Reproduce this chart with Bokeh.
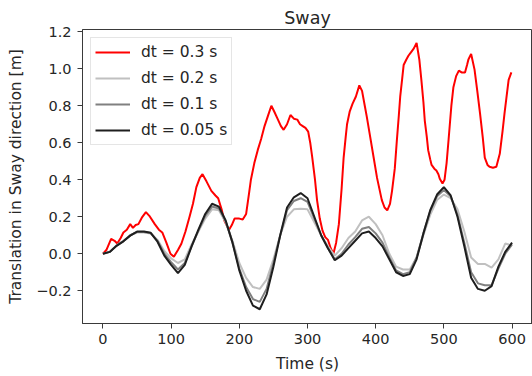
from bokeh.plotting import figure
from bokeh.models import Range1d, FixedTicker, CustomJSTickFormatter, Legend, LegendItem
from bokeh.embed import file_html
from bokeh.resources import INLINE

# ---------------- data ----------------
t_03 = [0, 5, 12, 17, 21, 26, 30, 35, 40, 44, 48, 52, 57, 63, 68, 76, 82, 87, 93, 99,
        104, 110, 115, 121, 127, 132, 137, 142, 146, 152, 159, 165, 169, 174, 178, 182,
        185, 189, 193, 200, 205, 210, 214, 217, 222, 227, 232, 237, 242, 247, 251, 256,
        261, 265, 270, 275, 280, 285, 289, 293, 297, 301, 304, 307, 311, 314, 318, 322,
        326, 330, 334, 338, 342, 346, 350, 353, 356, 358, 362, 366, 371, 376, 380, 384,
        387, 392, 397, 402, 409, 413, 417, 421, 424, 428, 431, 434, 436, 439, 441, 445,
        448, 452, 456, 460, 464, 467, 470, 472, 475, 477, 480, 482, 486, 489, 492, 494,
        498, 501, 504, 507, 511, 514, 518, 522, 526, 531, 534, 536, 540, 545, 549, 553,
        557, 560, 564, 567, 572, 577, 582, 586, 589, 592, 595, 599]
y_03 = [0.0, 0.02, 0.08, 0.07, 0.055, 0.085, 0.115, 0.13, 0.16, 0.14, 0.155, 0.16, 0.195,
        0.225, 0.205, 0.16, 0.13, 0.115, 0.06, 0.0, -0.016, 0.02, 0.054, 0.12, 0.2, 0.27,
        0.36, 0.41, 0.43, 0.39, 0.34, 0.315, 0.30, 0.24, 0.18, 0.15, 0.13, 0.155, 0.19,
        0.19, 0.185, 0.215, 0.32, 0.40, 0.49, 0.56, 0.62, 0.69, 0.745, 0.80, 0.77, 0.73,
        0.69, 0.67, 0.70, 0.75, 0.73, 0.725, 0.70, 0.69, 0.68, 0.66, 0.60, 0.52, 0.40,
        0.29, 0.19, 0.125, 0.09, 0.075, 0.03, 0.0, 0.06, 0.16, 0.35, 0.52, 0.63, 0.70,
        0.77, 0.81, 0.85, 0.91, 0.88, 0.80, 0.74, 0.63, 0.52, 0.41, 0.29, 0.25, 0.235,
        0.27, 0.34, 0.46, 0.61, 0.75, 0.85, 0.95, 1.02, 1.05, 1.07, 1.09, 1.11, 1.14,
        1.05, 0.94, 0.82, 0.72, 0.63, 0.56, 0.51, 0.48, 0.46, 0.45, 0.43, 0.405, 0.38,
        0.40, 0.49, 0.62, 0.80, 0.90, 0.96, 0.99, 0.98, 0.98, 1.02, 1.05, 1.08, 0.995,
        0.88, 0.76, 0.63, 0.52, 0.48, 0.47, 0.465, 0.47, 0.54, 0.66, 0.76, 0.85, 0.94, 0.98]

t_grid = [0, 10, 20, 30, 40, 50, 60, 70, 80, 90, 100, 110, 120, 130, 140, 150, 160, 170,
          180, 190, 200, 210, 220, 230, 240, 250, 260, 270, 280, 290, 300, 310, 320, 330,
          340, 350, 360, 370, 380, 390, 400, 410, 420, 430, 440, 450, 460, 470, 480, 490,
          500, 510, 520, 530, 540, 550, 560, 570, 580, 590, 600]
y_02 = [0.0, 0.01, 0.045, 0.07, 0.1, 0.115, 0.115, 0.11, 0.075, 0.015, -0.025, -0.05, -0.03,
        0.05, 0.12, 0.19, 0.24, 0.235, 0.17, 0.07, -0.05, -0.13, -0.18, -0.19, -0.14, -0.03,
        0.1, 0.2, 0.24, 0.243, 0.24, 0.17, 0.1, 0.04, -0.01, 0.03, 0.085, 0.12, 0.18, 0.2,
        0.16, 0.1, 0.0, -0.07, -0.085, -0.085, -0.02, 0.1, 0.21, 0.29, 0.32, 0.3, 0.24,
        0.12, -0.02, -0.055, -0.055, -0.075, -0.03, 0.055, 0.045]
y_01 = [0.0, 0.01, 0.045, 0.068, 0.1, 0.118, 0.118, 0.112, 0.07, 0.0, -0.045, -0.085, -0.05,
        0.04, 0.125, 0.205, 0.255, 0.245, 0.175, 0.06, -0.08, -0.18, -0.245, -0.26, -0.19,
        -0.05, 0.1, 0.235, 0.285, 0.3, 0.28, 0.19, 0.1, 0.03, -0.03, 0.0, 0.05, 0.09, 0.135,
        0.145, 0.11, 0.06, -0.02, -0.09, -0.11, -0.1, -0.02, 0.11, 0.23, 0.31, 0.345, 0.31,
        0.21, 0.06, -0.1, -0.16, -0.17, -0.17, -0.08, 0.0, 0.05]
y_005 = [0.0, 0.01, 0.043, 0.067, 0.098, 0.12, 0.12, 0.113, 0.065, -0.01, -0.06, -0.105,
         -0.06, 0.04, 0.13, 0.215, 0.27, 0.255, 0.18, 0.06, -0.09, -0.2, -0.28, -0.3, -0.22,
         -0.07, 0.1, 0.25, 0.305, 0.328, 0.3, 0.2, 0.1, 0.03, -0.035, -0.01, 0.03, 0.07,
         0.11, 0.12, 0.085, 0.04, -0.03, -0.1, -0.12, -0.11, -0.03, 0.11, 0.235, 0.32, 0.36,
         0.315, 0.2, 0.04, -0.13, -0.19, -0.2, -0.175, -0.07, 0.01, 0.06]

labels = ["dt = 0.3 s", "dt = 0.2 s", "dt = 0.1 s", "dt = 0.05 s"]
x_ticks = [0, 100, 200, 300, 400, 500, 600]
y_ticks = [-0.2, 0.0, 0.2, 0.4, 0.6, 0.8, 1.0, 1.2]

# ---------------- figure ----------------
FONT = "DejaVu Sans"
TXT = "#262626"

p = figure(width=532, height=376, output_backend="svg", toolbar_location=None,
           x_range=Range1d(-30, 630), y_range=Range1d(-0.377, 1.212),
           min_border_left=82, min_border_right=0, min_border_top=29, min_border_bottom=53,
           title="Sway")
p.background_fill_color = "white"
p.border_fill_color = "white"
p.outline_line_color = "#3a3a3a"
p.outline_line_width = 1
p.xgrid.visible = False
p.ygrid.visible = False

p.title.align = "center"
p.title.text_font = FONT
p.title.text_font_size = "17.5px"
p.title.text_font_style = "normal"
p.title.text_color = TXT
p.title.standoff = 3

for ax in (p.xaxis[0], p.yaxis[0]):
    ax.axis_line_color = "#3a3a3a"
    ax.major_tick_line_color = "#3a3a3a"
    ax.major_tick_out = 5
    ax.major_tick_in = 0
    ax.minor_tick_line_color = None
    ax.major_label_text_font = FONT
    ax.major_label_text_font_size = "14.5px"
    ax.major_label_text_color = TXT
    ax.axis_label_text_font = FONT
    ax.axis_label_text_font_size = "15.5px"
    ax.axis_label_text_font_style = "normal"
    ax.axis_label_text_color = TXT

p.xaxis.ticker = FixedTicker(ticks=x_ticks)
p.yaxis.ticker = FixedTicker(ticks=y_ticks)
p.yaxis.formatter = CustomJSTickFormatter(code="""
    return (tick < -1e-9 ? "\u2212" : "") + Math.abs(tick).toFixed(1);
""")
p.xaxis.axis_label = "Time (s)"
p.yaxis.axis_label = "Translation in Sway direction [m]"
p.xaxis.major_label_standoff = 5
p.yaxis.major_label_standoff = 6
p.xaxis.axis_label_standoff = 8
p.yaxis.axis_label_standoff = 8

r1 = p.line(t_03, y_03, line_color="#ff0000", line_width=2)
r2 = p.line(t_grid, y_02, line_color="#c0c0c0", line_width=2)
r3 = p.line(t_grid, y_01, line_color="#808080", line_width=2)
r4 = p.line(t_grid, y_005, line_color="#1e1e1e", line_width=2)

legend = Legend(items=[LegendItem(label=labels[0], renderers=[r1]),
                       LegendItem(label=labels[1], renderers=[r2]),
                       LegendItem(label=labels[2], renderers=[r3]),
                       LegendItem(label=labels[3], renderers=[r4])],
                location="top_left")
legend.margin = 8
legend.padding = 4
legend.spacing = 6
legend.glyph_width = 35
legend.glyph_height = 20
legend.label_height = 20
legend.label_standoff = 11
legend.label_text_font = FONT
legend.label_text_font_size = "15.5px"
legend.label_text_color = TXT
legend.border_line_color = "#cccccc"
legend.border_line_width = 1
legend.background_fill_alpha = 0.8
p.add_layout(legend)

open("out.html", "w").write(file_html(p, INLINE))
